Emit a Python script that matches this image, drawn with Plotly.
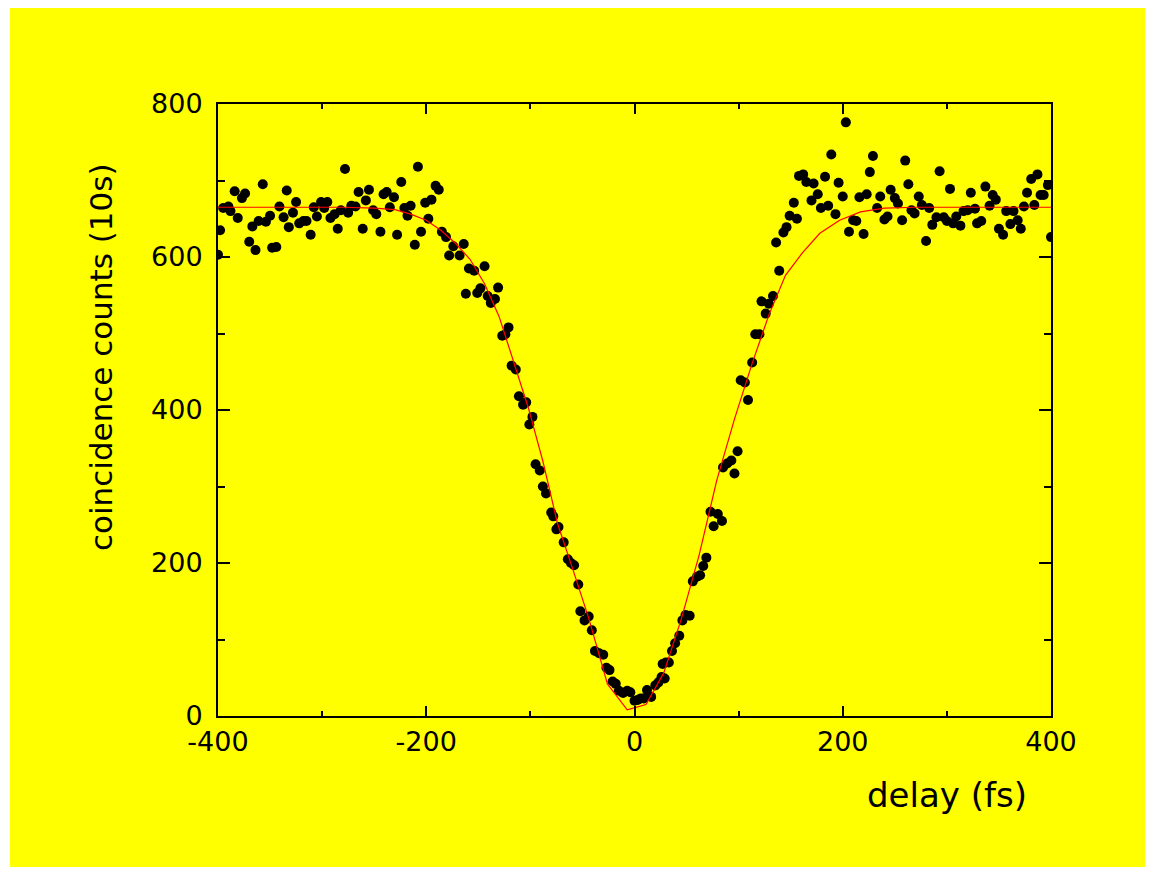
import plotly.graph_objects as go

# measured data points: delay (fs) and coincidence counts (10 s)
delay = [-400, -398, -395, -390, -388, -384, -381, -377, -374, -370, -367, -364, -361, -357, -354,
         -350, -348, -344, -341, -337, -334, -332, -328, -325, -322, -318, -315, -311, -308, -305,
         -301, -298, -295, -292, -288, -285, -282, -278, -275, -272, -268, -265, -261, -258, -255,
         -251, -248, -244, -241, -238, -235, -231, -228, -224, -221, -218, -215, -211, -208, -205,
         -201, -198, -195, -191, -188, -185, -181, -178, -174, -168, -164, -162, -159, -154, -151,
         -148, -144, -141, -138, -134, -131, -127, -124, -121, -118, -114, -111, -107, -104, -101,
         -98, -95, -91, -88, -85, -80, -78, -75, -73, -68, -64, -61, -58, -54, -52,
         -48, -44, -41, -38, -34, -30, -27, -24, -21, -18, -15, -11, -7, -4, 0,
         3, 6, 9, 12, 16, 20, 23, 26, 29, 27, 30, 33, 36, 39, 43,
         46, 49, 53, 56, 60, 63, 66, 69, 73, 76, 80, 84, 85, 89, 93,
         96, 99, 102, 106, 109, 113, 116, 120, 122, 126, 129, 133, 136, 139, 143,
         146, 149, 153, 156, 158, 162, 165, 170, 172, 176, 179, 183, 186, 189, 193,
         196, 200, 203, 206, 210, 213, 216, 220, 223, 226, 229, 233, 236, 240, 243,
         246, 250, 253, 257, 260, 263, 266, 269, 273, 276, 280, 283, 286, 290, 293,
         297, 300, 303, 306, 309, 313, 316, 320, 323, 327, 329, 333, 337, 341, 344,
         347, 350, 354, 357, 361, 364, 368, 371, 374, 377, 381, 384, 387, 390, 393,
         397, 400]
counts = [603, 635, 664, 666, 660, 686, 651, 677, 683, 620, 640, 609, 647, 695, 646,
          654, 612, 613, 666, 652, 687, 639, 658, 672, 644, 647, 647, 629, 665, 653,
          672, 664, 672, 651, 656, 637, 661, 715, 658, 667, 666, 685, 637, 674, 688,
          661, 656, 633, 682, 685, 665, 678, 629, 698, 664, 654, 667, 616, 718, 633,
          671, 650, 675, 693, 688, 633, 626, 602, 614, 602, 617, 552, 585, 582, 553,
          559, 588, 549, 540, 545, 560, 497, 499, 508, 458, 453, 418, 407, 410, 381,
          391, 329, 321, 300, 291, 266, 261, 244, 247, 227, 205, 200, 197, 172, 137,
          125, 130, 112, 85, 82, 80, 63, 60, 45, 42, 33, 30, 33, 31, 20,
          21, 23, 23, 34, 25, 40, 44, 51, 49, 68, 70, 70, 85, 95, 105,
          125, 132, 131, 176, 182, 184, 196, 207, 267, 248, 264, 255, 325, 330, 334,
          317, 346, 439, 436, 413, 462, 499, 499, 542, 526, 539, 549, 619, 582, 632,
          639, 654, 671, 650, 706, 708, 698, 674, 696, 682, 664, 705, 667, 734, 656,
          697, 679, 776, 633, 648, 647, 678, 630, 682, 711, 732, 664, 679, 649, 653,
          688, 677, 670, 648, 726, 695, 661, 657, 679, 668, 621, 664, 642, 652, 712,
          652, 647, 689, 644, 653, 641, 660, 661, 684, 663, 644, 647, 692, 667, 681,
          675, 637, 629, 660, 643, 660, 648, 637, 666, 684, 702, 668, 708, 681, 681,
          694, 626]

# fitted curve (red line)
fit_delay = [-400, -360, -320, -280, -250, -230, -215, -200, -186, -172, -158, -144, -130, -116,
             -102, -88, -74, -60, -44, -26, -7, 11, 28, 45, 62, 79, 96, 113, 129, 145, 161,
             178, 197, 217, 240, 270, 300, 350, 400]
fit_counts = [665, 665, 665, 665, 664, 662, 656, 648, 635, 618, 597, 565, 522, 462,
              403, 333, 252, 195, 128, 42, 8, 15, 56, 127, 210, 308, 388, 461, 524, 576, 605,
              631, 648, 659, 664, 665, 665, 665, 665]

x_ticks = [-400, -200, 0, 200, 400]
x_minor = [-300, -100, 100, 300]
y_ticks = [0, 200, 400, 600, 800]
y_minor = [100, 300, 500, 700]

# the page body has an 8 px margin, so the figure starts at page (8, 8);
# keep the figure small enough that the page does not overflow the window
OFF = 8
W, H = 1153 - OFF, 875 - 2 * OFF
PLOT_L, PLOT_R, PLOT_T, PLOT_B = 218, 1051, 104, 716   # page coordinates
L, T = PLOT_L - OFF, PLOT_T - OFF
R, B = W - (PLOT_R - OFF), H - (PLOT_B - OFF)
PW, PH = W - L - R, H - T - B

def px(xp):
    return (xp - OFF - L) / PW

def py(yp):
    return (H - B - (yp - OFF)) / PH

FONT = "DejaVu Sans"

fig = go.Figure()
fig.add_trace(go.Scatter(x=delay, y=counts, mode="markers",
                         marker=dict(color="black", size=10, line=dict(width=0)),
                         showlegend=False, hoverinfo="skip"))
fig.add_trace(go.Scatter(x=fit_delay, y=fit_counts, mode="lines",
                         line=dict(color="#ff0000", width=1.2),
                         showlegend=False, hoverinfo="skip"))

common = dict(showline=True, linecolor="black", linewidth=2, mirror="ticks",
              ticks="inside", tickcolor="black", tickwidth=2,
              showgrid=False, zeroline=False,
              tickfont=dict(family=FONT, size=27, color="black"))

fig.update_xaxes(range=[-400, 400], tickvals=x_ticks, ticktext=[str(v) for v in x_ticks],
                 ticklen=10, ticklabelstandoff=1,
                 minor=dict(ticks="inside", ticklen=5, tickvals=x_minor,
                            tickcolor="black", tickwidth=2, showgrid=False),
                 **common)
fig.update_yaxes(range=[0, 800], tickvals=y_ticks, ticktext=[str(v) for v in y_ticks],
                 ticklen=12, ticklabelstandoff=8,
                 minor=dict(ticks="inside", ticklen=7, tickvals=y_minor,
                            tickcolor="black", tickwidth=2, showgrid=False),
                 **common)

fig.update_layout(
    width=W, height=H,
    margin=dict(l=L, r=R, t=T, b=B, pad=0),
    paper_bgcolor="#ffff00",
    plot_bgcolor="#ffff00",
    shapes=[dict(type="rect", xref="paper", yref="paper",
                 x0=px(0), x1=px(10), y0=py(890), y1=py(0),
                 fillcolor="white", line=dict(width=0), layer="below")],
    annotations=[
        dict(text="delay (fs)", xref="paper", yref="paper", x=px(947), y=py(795),
             xanchor="center", yanchor="middle", showarrow=False,
             font=dict(family=FONT, size=34, color="black")),
        dict(text="coincidence counts (10s)", xref="paper", yref="paper",
             x=px(101), y=py(357), xanchor="center", yanchor="middle",
             textangle=-90, showarrow=False,
             font=dict(family=FONT, size=31, color="black")),
    ],
)

fig.write_html("out.html")
